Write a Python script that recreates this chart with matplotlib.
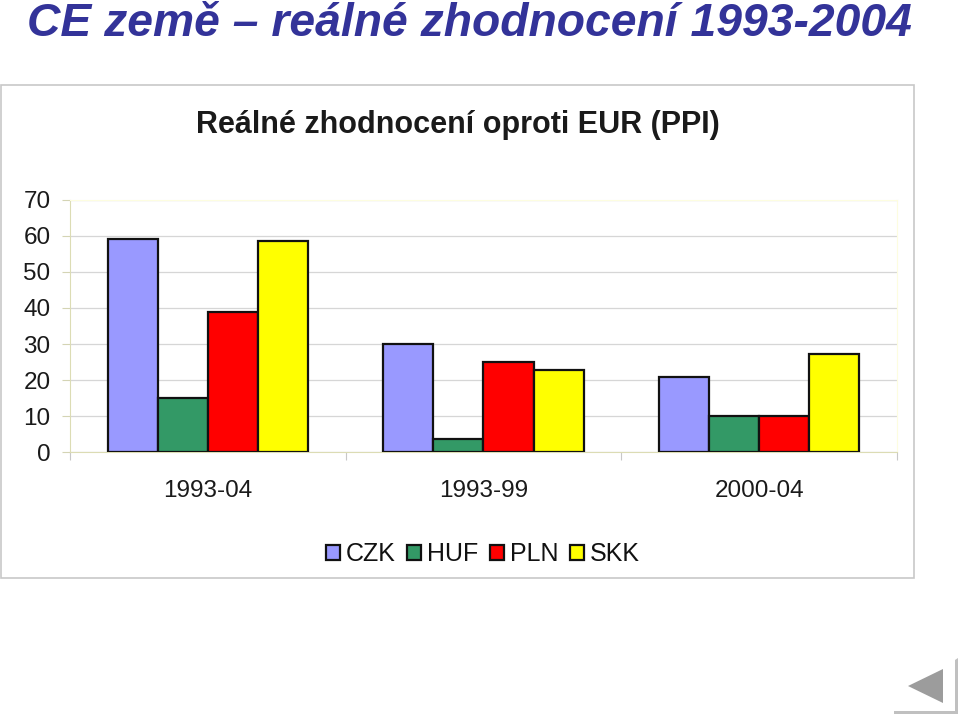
import matplotlib
matplotlib.use('Agg')
import matplotlib.pyplot as plt
import numpy as np
from matplotlib.patches import Rectangle, Polygon

plt.rcParams['font.family'] = ['Liberation Sans', 'DejaVu Sans']

periods = ['1993-04', '1993-99', '2000-04']
czk = [59, 30, 21]
huf = [15.2, 3.7, 10]
pln = [39, 25, 10]
skk = [58.5, 22.7, 27.3]

names = ['CZK', 'HUF', 'PLN', 'SKK']
colors = ['#9999ff', '#339966', '#ff0000', '#ffff00']
yticks = list(range(0, 71, 10))

W, H = 960, 716


def px(x, y):
    # pixel from top left -> figure fraction
    return x / W, 1 - y / H


fig = plt.figure(figsize=(9.6, 7.16), dpi=100)

# chart frame
x0, y0 = px(1, 578)
x1, y1 = px(914, 85)
fig.patches.append(Rectangle((x0, y0), x1 - x0, y1 - y0, transform=fig.transFigure,
                             fc='white', ec='#c8c8c8', lw=1.2, zorder=-1))

# back arrow in the corner
fig.patches.append(Polygon([px(908, 686), px(943, 669), px(943, 703)], transform=fig.transFigure,
                           fc='#9c9c9c', ec='none'))
fig.patches.append(Polygon([px(894, 711), px(955, 711), px(955, 660), px(958, 658), px(958, 714), px(894, 714)],
                           transform=fig.transFigure, fc='#c0c0c0', ec='none'))

fig.text(27 / W, 1 - 23.5 / H, 'CE země – reálné zhodnocení 1993-2004', color='#333399', fontsize=33.3,
         fontweight='bold', fontstyle='italic', ha='left', va='center')
fig.text(458 / W, 1 - 125 / H, 'Reálné zhodnocení oproti EUR (PPI)', color='#1a1a1a', fontsize=22,
         fontweight='bold', ha='center', va='center')

left, bottom = px(70, 452.5)
right, top = px(897, 199.5)
ax = fig.add_axes([left, bottom, right - left, top - bottom])
ax.patch.set_alpha(0)

width = 1 / 5.5
x = np.arange(len(periods))
series = [czk, huf, pln, skk]
for i, vals in enumerate(series):
    ax.bar(x + (i - 1.5) * width, vals, width, color=colors[i], edgecolor='#111111', linewidth=1.6,
           label=names[i], zorder=3)

ax.set_xlim(-0.5, 2.5)
ax.set_ylim(0, 70)
ax.set_yticks(yticks)
ax.set_xticks([-0.5, 0.5, 1.5, 2.5])
ax.set_xticklabels([])
ax.set_xticks(x, minor=True)
ax.set_xticklabels(periods, minor=True)
ax.tick_params(axis='x', which='major', length=6, width=0.8, color='#c8c8c8')
ax.tick_params(axis='x', which='minor', length=0, pad=20, labelsize=17.5, labelcolor='#1a1a1a')
ax.tick_params(axis='y', length=6, width=0.8, color='#d4d4b4', pad=8, labelsize=17.5, labelcolor='#1a1a1a')

ax.yaxis.grid(True, color='#d6d6d6', lw=0.9, zorder=0)
ax.set_axisbelow(True)
ax.spines['left'].set_color('#dcdcb4')
ax.spines['bottom'].set_color('#dcdcb4')
ax.spines['top'].set_color('#fdfde0')
ax.spines['right'].set_color('#fdfde0')

fig.legend(loc='center', bbox_to_anchor=px(483, 554), ncol=4, frameon=False, fontsize=18,
           handlelength=0.56, handleheight=0.56, handletextpad=0.25, columnspacing=0.45, borderpad=0)
for text in fig.legends[0].get_texts():
    text.set_color('#111111')

fig.savefig('out.png', dpi=100)
